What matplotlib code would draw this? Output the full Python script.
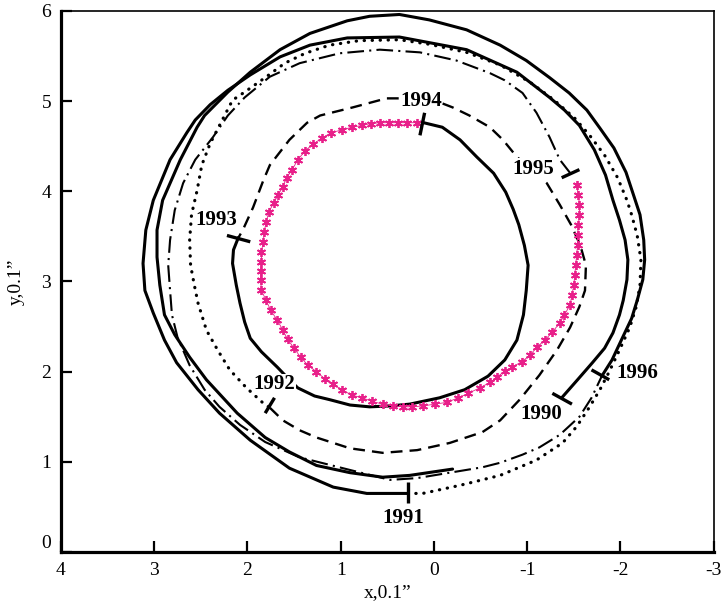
import matplotlib
matplotlib.use('Agg')
import matplotlib.pyplot as plt

plt.rcParams['font.family'] = ['Liberation Serif', 'DejaVu Serif']
plt.rcParams['axes.unicode_minus'] = False

# 1990 -> 1991 (solid)
x_90 = [-1.37, -1.54, -1.70, -1.83, -1.92, -1.99, -2.03, -2.07, -2.08, -2.05, -1.99, -1.92,
        -1.84, -1.72, -1.56, -1.40, -1.24, -0.89, -0.35, 0.37, 0.93, 1.33, 1.65, 1.97,
        2.21, 2.40, 2.56, 2.65, 2.83, 3.01, 3.09, 3.12, 3.10, 3.01, 2.89, 2.76, 2.53,
        2.30, 1.97, 1.55, 1.08, 0.72, 0.28]
y_90 = [1.71, 1.91, 2.10, 2.26, 2.43, 2.63, 2.79, 3.02, 3.24, 3.46, 3.68, 3.90,
        4.18, 4.46, 4.73, 4.90, 5.04, 5.32, 5.57, 5.71, 5.70, 5.62, 5.49, 5.29,
        5.12, 4.96, 4.79, 4.65, 4.35, 3.90, 3.57, 3.20, 2.90, 2.65, 2.35, 2.10, 1.80,
        1.54, 1.24, 0.93, 0.72, 0.65, 0.65]

# 1991 -> 1992 (dotted)
x_91 = [0.28, 0.12, -0.28, -0.71, -1.10, -1.38, -1.53, -1.67, -1.78, -1.88, -1.99, -2.10,
        -2.17, -2.21, -2.22, -2.18, -2.12, -2.07, -1.97, -1.83, -1.67, -1.51, -1.29, -1.03,
        -0.71, -0.35, 0.05, 0.37, 0.80, 1.12, 1.38, 1.60, 1.81, 2.03, 2.16, 2.27, 2.40,
        2.49, 2.54, 2.60, 2.62, 2.61, 2.57, 2.53, 2.44, 2.32, 2.19, 2.01, 1.83, 1.76]
y_91 = [0.65, 0.65, 0.74, 0.85, 1.02, 1.21, 1.39, 1.61, 1.80, 2.00, 2.24, 2.49,
        2.72, 2.96, 3.24, 3.51, 3.74, 3.90, 4.15, 4.40, 4.62, 4.81, 5.01, 5.21,
        5.40, 5.54, 5.63, 5.68, 5.67, 5.62, 5.53, 5.42, 5.26, 5.10, 5.01, 4.79, 4.53,
        4.29, 4.01, 3.74, 3.46, 3.18, 2.96, 2.76, 2.46, 2.24, 2.02, 1.82, 1.65, 1.60]

# 1992 -> 1993 (dashed)
x_92 = [1.76, 1.62, 1.44, 1.26, 0.90, 0.55, 0.18, -0.17, -0.52, -0.71, -0.92, -1.13,
        -1.32, -1.46, -1.56, -1.62, -1.63, -1.57, -1.47, -1.35, -1.21, -1.03, -0.89,
        -0.74, -0.60, -0.38, -0.20, 0.05, 0.51, 0.87, 1.22, 1.36, 1.55, 1.76, 1.83,
        1.94, 2.05, 2.10]
y_92 = [1.60, 1.46, 1.35, 1.27, 1.15, 1.10, 1.13, 1.21, 1.33, 1.46, 1.69, 1.96,
        2.24, 2.49, 2.72, 2.90, 3.18, 3.40, 3.63, 3.85, 4.09, 4.26, 4.38,
        4.57, 4.71, 4.84, 4.93, 5.03, 5.03, 4.93, 4.84, 4.76, 4.57, 4.29, 4.12,
        3.82, 3.57, 3.48]

# 1993 -> 1994 (solid, inner)
x_93 = [2.10, 2.15, 2.16, 2.12, 2.08, 2.03, 1.97, 1.85, 1.68, 1.55, 1.46, 1.28, 1.12,
        0.90, 0.69, 0.47, 0.26, -0.06, -0.33, -0.58, -0.76, -0.89, -0.96, -0.99, -1.01,
        -0.97, -0.91, -0.85, -0.77, -0.64, -0.46, -0.28, -0.09, 0.11]
y_93 = [3.48, 3.35, 3.20, 2.96, 2.76, 2.55, 2.37, 2.22, 2.05, 1.91, 1.82, 1.73, 1.69,
        1.63, 1.61, 1.62, 1.64, 1.71, 1.80, 1.95, 2.13, 2.35, 2.63, 2.90, 3.18,
        3.40, 3.63, 3.80, 3.99, 4.20, 4.38, 4.57, 4.71, 4.76]

# 1994 -> 1995 (stars)
x_94 = [0.18, 0.29, 0.39, 0.48, 0.58, 0.68, 0.77, 0.88, 0.99, 1.10, 1.20, 1.30, 1.38,
        1.46, 1.52, 1.58, 1.62, 1.67, 1.72, 1.77, 1.80, 1.82, 1.83, 1.85, 1.85, 1.86,
        1.86, 1.85, 1.80, 1.75, 1.68, 1.62, 1.57, 1.50, 1.43, 1.35, 1.26, 1.17, 1.08,
        0.99, 0.88, 0.77, 0.66, 0.55, 0.44, 0.33, 0.23, 0.12, -0.01, -0.14, -0.26,
        -0.37, -0.49, -0.60, -0.68, -0.76, -0.84, -0.94, -1.03, -1.10, -1.19, -1.27,
        -1.35, -1.40, -1.46, -1.48, -1.50, -1.51, -1.52, -1.53, -1.54, -1.54, -1.55,
        -1.56, -1.56, -1.55, -1.53]
y_94 = [4.76, 4.76, 4.76, 4.76, 4.76, 4.75, 4.73, 4.71, 4.68, 4.65, 4.59, 4.52, 4.45,
        4.35, 4.24, 4.15, 4.05, 3.96, 3.87, 3.77, 3.66, 3.55, 3.44, 3.33, 3.22, 3.12,
        3.02, 2.90, 2.79, 2.68, 2.57, 2.46, 2.36, 2.26, 2.16, 2.07, 2.00, 1.92, 1.86,
        1.80, 1.74, 1.71, 1.67, 1.64, 1.62, 1.61, 1.61, 1.62, 1.64, 1.66, 1.71,
        1.76, 1.82, 1.88, 1.94, 2.01, 2.05, 2.11, 2.18, 2.27, 2.35, 2.44,
        2.54, 2.63, 2.74, 2.85, 2.96, 3.07, 3.18, 3.29, 3.40, 3.51, 3.63,
        3.74, 3.85, 3.96, 4.07]

# 1995 -> 1996 (dash-dot)
x_95 = [-1.47, -1.35, -1.24, -1.10, -0.95, -0.76, -0.60, -0.24, 0.15, 0.58, 1.01, 1.44,
        1.76, 2.03, 2.21, 2.37, 2.56, 2.69, 2.78, 2.83, 2.85, 2.83, 2.81, 2.75, 2.62,
        2.46, 2.30, 2.08, 1.81, 1.44, 0.90, 0.47, 0.18, -0.17, -0.52, -0.71, -0.95,
        -1.13, -1.35, -1.56, -1.69, -1.80]
y_95 = [4.19, 4.35, 4.60, 4.87, 5.09, 5.23, 5.31, 5.45, 5.54, 5.57, 5.53, 5.42,
        5.27, 5.04, 4.84, 4.60, 4.35, 4.09, 3.79, 3.46, 3.18, 2.90, 2.63, 2.38, 2.07,
        1.80, 1.61, 1.41, 1.22, 1.05, 0.91, 0.80, 0.82, 0.88, 0.94, 0.99, 1.08,
        1.16, 1.30, 1.50, 1.71, 1.95]

# 1996 -> (solid, outer)
x_96 = [-1.80, -1.91, -2.01, -2.12, -2.18, -2.24, -2.26, -2.25, -2.21, -2.14, -2.06, -1.93,
        -1.78, -1.64, -1.45, -1.24, -0.99, -0.71, -0.35, 0.05, 0.37, 0.69, 0.93, 1.33,
        1.65, 1.97, 2.21, 2.46, 2.54, 2.72, 2.91, 2.97, 2.97, 2.94, 2.89, 2.78, 2.62,
        2.44, 2.11, 1.81, 1.55, 1.26, 0.90, 0.55, 0.26, -0.20]
y_96 = [1.95, 2.13, 2.35, 2.59, 2.79, 3.02, 3.24, 3.46, 3.74, 3.96, 4.21, 4.48,
        4.70, 4.90, 5.09, 5.26, 5.45, 5.62, 5.79, 5.90, 5.96, 5.94, 5.89, 5.75,
        5.57, 5.32, 5.10, 4.84, 4.71, 4.35, 3.90, 3.57, 3.27, 2.96, 2.63, 2.41, 2.16,
        1.91, 1.54, 1.27, 1.11, 0.96, 0.88, 0.83, 0.85, 0.92]

# year marks
years = ['1990', '1991', '1992', '1993', '1994', '1995', '1996']
mark_x0 = [-1.27, 0.28, 1.81, 2.22, 0.15, -1.37, -1.69]
mark_y0 = [1.76, 0.78, 1.54, 3.51, 4.62, 4.15, 2.02]
mark_x1 = [-1.48, 0.28, 1.71, 1.97, 0.10, -1.56, -1.88]
mark_y1 = [1.64, 0.54, 1.71, 3.44, 4.87, 4.24, 1.91]
label_x = [-1.15, 0.33, 1.71, 2.33, 0.14, -1.06, -2.18]
label_y = [1.53, 0.38, 1.86, 3.68, 5.00, 4.25, 1.98]

xticks = [4, 3, 2, 1, 0, -1, -2, -3]
yticks = [0, 1, 2, 3, 4, 5, 6]

fig = plt.figure(figsize=(7.26, 6.04), dpi=100)
ax = fig.add_axes([0.084, 0.086, 0.899, 0.896])

ax.plot(x_90, y_90, color='black', lw=2.2, solid_capstyle='round', solid_joinstyle='round')
ax.plot(x_91, y_91, color='black', lw=2.3, linestyle=(0, (0.1, 2.4)), dash_capstyle='round')
ax.plot(x_92, y_92, color='black', lw=1.7, linestyle=(0, (5, 3)))
ax.plot(x_93, y_93, color='black', lw=2.2, solid_joinstyle='round')
ax.plot(x_94, y_94, color='#e8208a', lw=0.6, marker=(6, 2, 0), markersize=6.5,
        markeredgewidth=1.3, markeredgecolor='#e8208a')
ax.plot(x_95, y_95, color='black', lw=1.5, linestyle=(0, (8, 2.5, 1, 2.5)))
ax.plot(x_96, y_96, color='black', lw=2.2, solid_capstyle='round', solid_joinstyle='round')

for i in range(len(years)):
    ax.plot([mark_x0[i], mark_x1[i]], [mark_y0[i], mark_y1[i]], color='black', lw=2.4,
            solid_capstyle='butt')
    ax.text(label_x[i], label_y[i], years[i], ha='center', va='center', fontsize=15,
            fontweight='bold', zorder=5,
            bbox=dict(facecolor='white', edgecolor='none', pad=0.3))

ax.set_xlim(4, -3)
ax.set_ylim(0, 6)
ax.set_xticks(xticks)
ax.set_xticklabels([str(t) for t in xticks])
ax.set_yticks(yticks)
ax.set_yticklabels([str(t) for t in yticks])
ax.tick_params(direction='in', length=8, width=1.6, labelsize=14, pad=7)
ax.get_yticklabels()[0].set_verticalalignment('bottom')

ax.spines['left'].set_linewidth(2.3)
ax.spines['bottom'].set_linewidth(2.3)
ax.spines['top'].set_linewidth(1.2)
ax.spines['right'].set_linewidth(1.2)

ax.set_xlabel('x,0.1\u201d', fontsize=14, labelpad=4)
ax.set_ylabel('y,0.1\u201d', fontsize=14, labelpad=12)

fig.savefig('out.png', dpi=100)
